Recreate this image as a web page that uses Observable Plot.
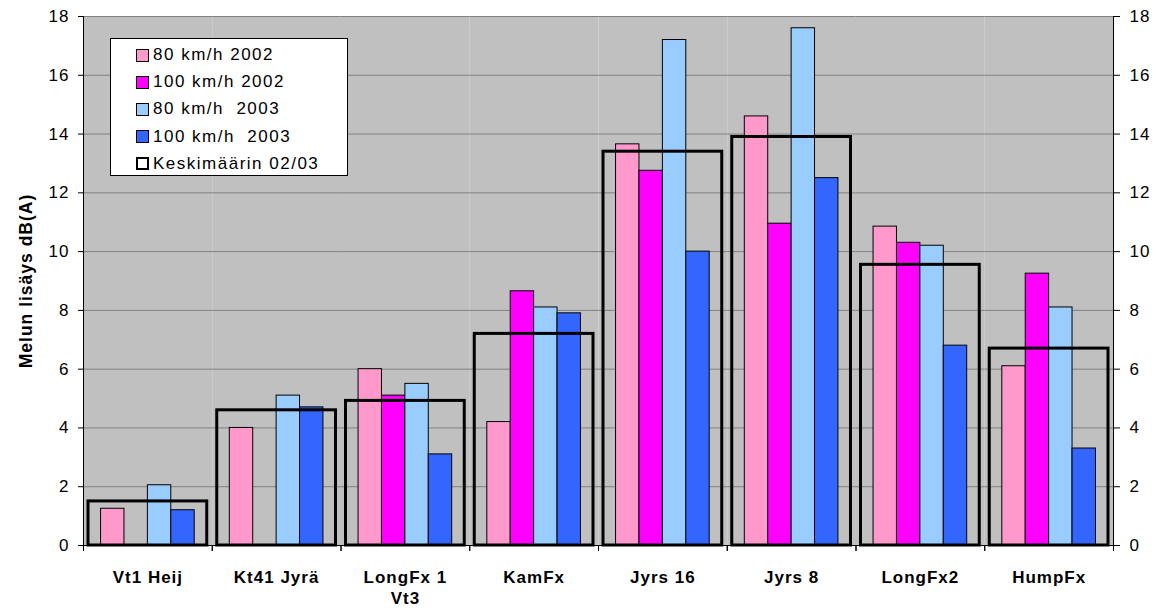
<!DOCTYPE html>
<html>
<head>
<meta charset="utf-8">
<script src="https://cdn.jsdelivr.net/npm/d3@7"></script>
<script src="https://cdn.jsdelivr.net/npm/@observablehq/plot@0.6"></script>
<style>
  html, body { margin: 0; padding: 0; background: white; }
  #wrap { position: relative; width: 1156px; height: 608px; font-family: Arial, "Liberation Sans", sans-serif; }
  #chart svg text { letter-spacing: 1px; }
  #legend { position: absolute; left: 110px; top: 38px; width: 236px; height: 136px; background: white; border: 1px solid #000; box-sizing: content-box; }
  .item { position: absolute; left: 25px; height: 20px; display: flex; align-items: center; font-size: 17px; letter-spacing: 1.5px; color: #000; white-space: pre; }
  .sw { width: 11px; height: 11px; border: 1px solid #000; margin-right: 4px; flex: none; }
</style>
</head>
<body>
<div id="wrap"><div id="chart"></div><div id="legend"></div></div>
<script>
const categories = ["Vt1 Heij", "Kt41 Jyrä", "LongFx 1\nVt3", "KamFx", "Jyrs 16", "Jyrs 8", "LongFx2", "HumpFx"];
const series = ["80 km/h 2002", "100 km/h 2002", "80 km/h  2003", "100 km/h  2003"];
const avgLabel = "Keskimäärin 02/03";
const yTitle = "Melun lisäys dB(A)";
const v80_2002  = [1.25, 4.0, 6.0, 4.2, 13.65, 14.6, 10.85, 6.1];
const v100_2002 = [null, null, 5.1, 8.65, 12.75, 10.95, 10.3, 9.25];
const v80_2003  = [2.05, 5.1, 5.5, 8.1, 17.2, 17.6, 10.2, 8.1];
const v100_2003 = [1.2, 4.7, 3.1, 7.9, 10.0, 12.5, 6.8, 3.3];
const avg0203   = [1.5, 4.6, 4.92, 7.2, 13.4, 13.9, 9.55, 6.7];
const yTicks = [0, 2, 4, 6, 8, 10, 12, 14, 16, 18];
const colors = ["#FF99CC", "#FF00FF", "#99CCFF", "#3366FF"];

const seriesValues = [v80_2002, v100_2002, v80_2003, v100_2003];
const rows = categories.flatMap((c, i) => series.map((s, j) => ({cat: c, series: s, value: seriesValues[j][i]})))
  .filter(d => d.value != null);
const avgRows = categories.map((c, i) => ({cat: c, value: avg0203[i]}));

const W = 1156, H = 608, mL = 83, mR = 43, mT = 16, mB = 63;
const half = (W - mL - mR) / categories.length / 2;

const chart = Plot.plot({
  width: W, height: H,
  marginLeft: mL, marginRight: mR, marginTop: mT, marginBottom: mB,
  style: {fontFamily: "Arial, 'Liberation Sans', sans-serif", fontSize: "17px", background: "white", color: "black", overflow: "visible"},
  fx: {domain: categories, padding: 0, round: false, label: null},
  x: {domain: series, paddingInner: 0, paddingOuter: 0.75, round: false, axis: null},
  y: {domain: [0, 18], label: null},
  color: {domain: series, range: colors},
  marks: [
    Plot.frame({fill: "#C0C0C0"}),
    Plot.gridY(yTicks, {stroke: "#808080", strokeOpacity: 1, strokeWidth: 1}),
    Plot.barY(rows, {fx: "cat", x: "series", y: "value", fill: "series", stroke: "black", strokeWidth: 1, inset: 0}),
    Plot.barY(avgRows, {fx: "cat", y: "value", fill: "none", stroke: "black", strokeWidth: 3, insetLeft: 5, insetRight: 5, insetTop: 0, insetBottom: 0}),
    Plot.ruleY([0], {stroke: "black"}),
    Plot.frame({anchor: "left", facetAnchor: "left", stroke: "black"}),
    Plot.frame({anchor: "right", facetAnchor: "right", stroke: "black"}),
    Plot.axisY(yTicks, {anchor: "left", tickSize: 5, tickPadding: 9, label: null, fontSize: 17}),
    Plot.axisY(yTicks, {anchor: "right", tickSize: 6, tickPadding: 10, label: null, fontSize: 17}),
    Plot.text([yTitle], {frameAnchor: "left", textAnchor: "middle", rotate: -90, dx: -57, fontWeight: "bold", fontSize: 17.5, facetAnchor: "left"}),
    Plot.axisFx({anchor: "bottom", tickSize: 0, tickPadding: 22, label: null, fontWeight: "bold", fontSize: 17, lineHeight: 1.25}),
    Plot.axisFx({anchor: "bottom", tickSize: 6, text: null, label: null, dx: -half}),
    Plot.axisFx([categories[categories.length - 1]], {anchor: "bottom", tickSize: 6, text: null, label: null, dx: half})
  ]
});
document.getElementById("chart").appendChild(chart);

const legend = document.getElementById("legend");
const legendItems = series.map((s, i) => ({label: s, fill: colors[i], bw: 1})).concat([{label: avgLabel, fill: "white", bw: 2.5}]);
legendItems.forEach((it, i) => {
  const div = document.createElement("div");
  div.className = "item";
  div.style.top = (6 + i * 27.2) + "px";
  const sw = document.createElement("span");
  sw.className = "sw";
  sw.style.background = it.fill;
  sw.style.borderWidth = it.bw + "px";
  if (it.bw > 1) { sw.style.width = "9px"; sw.style.height = "9px"; }
  div.appendChild(sw);
  div.appendChild(document.createTextNode(it.label));
  legend.appendChild(div);
});
</script>
</body>
</html>
